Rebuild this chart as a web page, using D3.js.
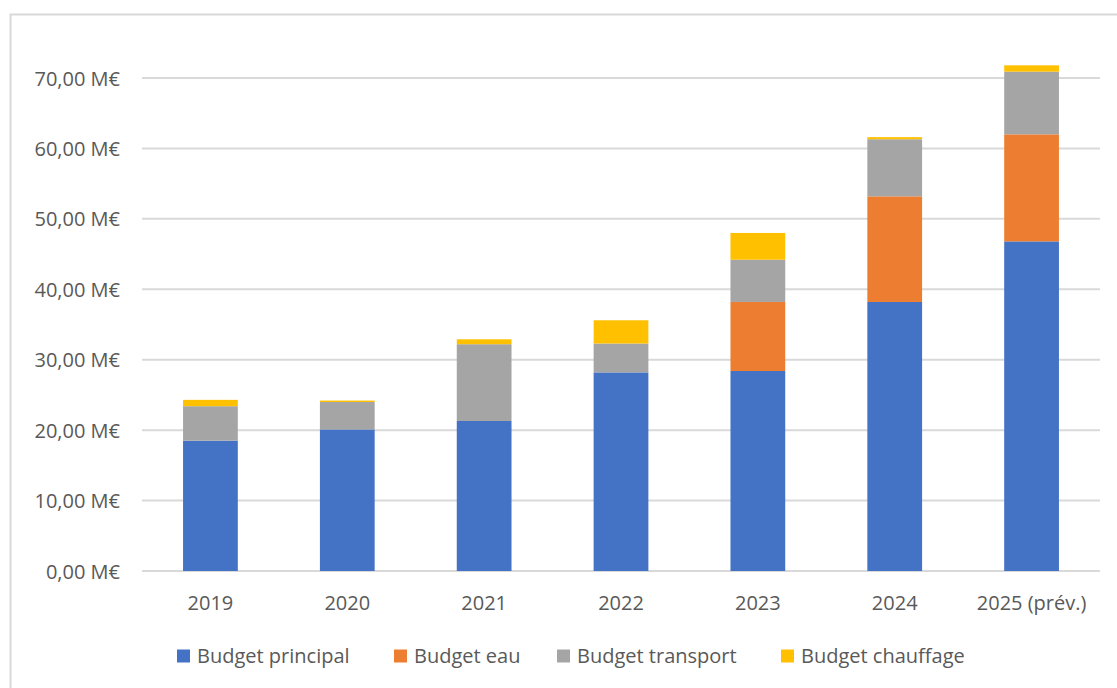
<!DOCTYPE html>
<html lang="fr">
<head>
<meta charset="utf-8">
<script src="https://cdn.jsdelivr.net/npm/d3@7"></script>
<style>
  html, body { margin: 0; padding: 0; background: #ffffff; }
  svg { display: block; }
  text { font-family: "Open Sans", "Noto Sans", sans-serif; fill: #595959; }
</style>
</head>
<body>
<svg id="chart" width="1117" height="688"></svg>
<script>
// Budgets par année (en millions d'euros)
const years = ["2019", "2020", "2021", "2022", "2023", "2024", "2025 (prév.)"];
const seriesNames = ["Budget principal", "Budget eau", "Budget transport", "Budget chauffage"];
const budgetPrincipal = [18.5, 20.1, 21.3, 28.2, 28.4, 38.2, 46.8];
const budgetEau       = [0, 0, 0, 0, 9.8, 15.0, 15.2];
const budgetTransport = [4.9, 3.9, 10.9, 4.1, 6.0, 8.1, 8.9];
const budgetChauffage = [0.9, 0.2, 0.7, 3.3, 3.8, 0.3, 0.9];
const yTicks = [0, 10, 20, 30, 40, 50, 60, 70];
const colors = ["#4472C4", "#ED7D31", "#A5A5A5", "#FFC000"];

const rows = years.map((y, i) => ({
  year: y,
  "Budget principal": budgetPrincipal[i],
  "Budget eau": budgetEau[i],
  "Budget transport": budgetTransport[i],
  "Budget chauffage": budgetChauffage[i]
}));

const fr = d3.formatLocale({ decimal: ",", thousands: " ", grouping: [3], currency: ["", " €"] });
const fmt = v => fr.format(".2f")(v) + " M€";

const svg = d3.select("#chart");

// Cadre du graphique
svg.append("path")
  .attr("d", "M10.5,688 V14.5 H1117")
  .attr("fill", "none")
  .attr("stroke", "#d9d9d9")
  .attr("stroke-width", 2);

const plot = { left: 142, right: 1100, top: 78, bottom: 571 };

const x = d3.scaleBand()
  .domain(years)
  .range([plot.left, plot.right])
  .paddingInner(0.6)
  .paddingOuter(0.3);

const y = d3.scaleLinear()
  .domain([0, 70])
  .range([plot.bottom, plot.top]);

// Quadrillage horizontal
svg.append("g")
  .selectAll("line")
  .data(yTicks)
  .join("line")
  .attr("x1", plot.left)
  .attr("x2", plot.right)
  .attr("y1", d => y(d))
  .attr("y2", d => y(d))
  .attr("stroke", "#d9d9d9")
  .attr("stroke-width", 2);

// Axe vertical : étiquettes
const yAxis = d3.axisLeft(y).tickValues(yTicks).tickFormat(fmt).tickSize(0).tickPadding(0);
svg.append("g")
  .attr("transform", "translate(120,0)")
  .call(yAxis)
  .call(g => g.select(".domain").remove())
  .call(g => g.selectAll("text")
    .attr("font-size", 20)
    .attr("font-family", "Open Sans")
    .attr("fill", "#595959")
    .attr("dy", "0.35em"));

// Barres empilées
const stack = d3.stack().keys(seriesNames);
const layers = stack(rows);

svg.append("g")
  .selectAll("g")
  .data(layers)
  .join("g")
  .attr("fill", (d, i) => colors[i])
  .selectAll("rect")
  .data(d => d)
  .join("rect")
  .attr("x", d => x(d.data.year))
  .attr("width", x.bandwidth())
  .attr("y", d => y(d[1]))
  .attr("height", d => Math.max(0, y(d[0]) - y(d[1])));

// Axe horizontal : étiquettes
const xAxis = d3.axisBottom(x).tickSize(0).tickPadding(0);
svg.append("g")
  .attr("transform", `translate(0,${plot.bottom})`)
  .call(xAxis)
  .call(g => g.select(".domain").remove())
  .call(g => g.selectAll("text")
    .attr("font-size", 20)
    .attr("font-family", "Open Sans")
    .attr("fill", "#595959")
    .attr("y", 32)
    .attr("dy", "0.35em"));

// Légende
const legendX = [177, 394, 557, 781];
const legend = svg.append("g")
  .selectAll("g")
  .data(seriesNames)
  .join("g")
  .attr("transform", (d, i) => `translate(${legendX[i]},656)`);

legend.append("rect")
  .attr("x", 0)
  .attr("y", -6.5)
  .attr("width", 13)
  .attr("height", 13)
  .attr("fill", (d, i) => colors[i]);

legend.append("text")
  .attr("x", 20)
  .attr("y", 0)
  .attr("dy", "0.35em")
  .attr("font-size", 20)
  .text(d => d);
</script>
</body>
</html>
